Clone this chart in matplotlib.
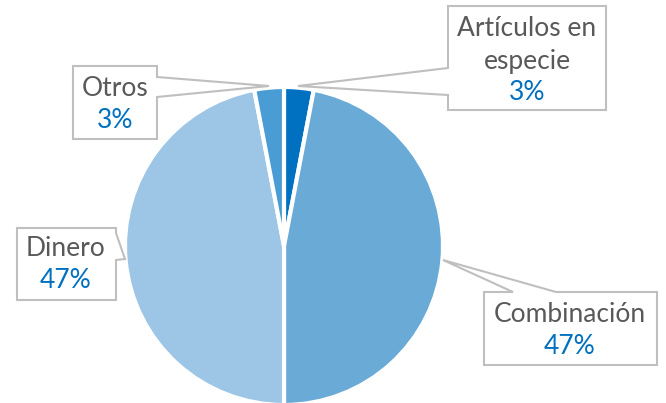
import matplotlib
matplotlib.use("Agg")
import matplotlib.pyplot as plt
from matplotlib.patches import Polygon

# tipo de donación (%)
categorias = ["Artículos en\nespecie", "Combinación", "Dinero", "Otros"]
valores = [3, 47, 47, 3]
colores = ["#0070C0", "#6AAAD6", "#9DC5E5", "#4A9CD4"]

GRIS = "#595959"
AZUL = "#0070C0"
BORDE = "#BFBFBF"

W, H = 666, 403


def callout(ax, box, side, base, tip):
    """Rectangle callout with a wedge pointer; coords in pixels, y downwards."""
    x0, y0, x1, y1 = box
    b0, b1 = base
    if side == "left":
        pts = [(x0, y0), (x1, y0), (x1, y1), (x0, y1), (x0, b1), tip, (x0, b0)]
    elif side == "right":
        pts = [(x0, y0), (x1, y0), (x1, b0), tip, (x1, b1), (x1, y1), (x0, y1)]
    else:  # top
        pts = [(x0, y0), (b0, y0), tip, (b1, y0), (x1, y0), (x1, y1), (x0, y1)]
    pts = [(x, H - y) for x, y in pts]
    ax.add_patch(Polygon(pts, closed=True, facecolor="white", edgecolor=BORDE,
                         lw=1.5, zorder=5, joinstyle="miter"))


fig = plt.figure(figsize=(W / 100, H / 100), dpi=100)
ax = fig.add_axes([0, 0, 1, 1])
ax.set_xlim(0, W)
ax.set_ylim(0, H)
ax.set_aspect("equal")
ax.axis("off")

ax.pie(valores, colors=colores, startangle=90, counterclock=False,
       center=(284, H - 246), radius=159,
       wedgeprops=dict(edgecolor="white", linewidth=3))
ax.set_xlim(0, W)
ax.set_ylim(0, H)

# callouts: box (x0, y0, x1, y1), side with pointer, pointer base, tip
callouts = [
    ((448, 6, 606, 110), "left", (68, 95), (298, 86)),
    ((484, 292, 657, 365), "top", (513, 556), (443, 260)),
    ((17, 228, 116, 300), "right", (233, 260), (125, 259)),
    ((73, 66, 157, 139), "right", (77, 97), (269, 86)),
]
# text positions (x centre, y of first line)
textos = [(527, 29), (570, 314), (66, 249), (115, 89)]

font = dict(family=["Lato", "DejaVu Sans"], fontsize=19, ha="center",
            va="center", zorder=6)

for cat, val, (box, side, base, tip), (tx, ty) in zip(categorias, valores,
                                                      callouts, textos):
    callout(ax, box, side, base, tip)
    lineas = cat.split("\n")
    for i, ln in enumerate(lineas):
        ax.text(tx, H - (ty + i * 33), ln, color=GRIS, **font)
    ax.text(tx, H - (ty + len(lineas) * 32), f"{val}%", color=AZUL, **font)

fig.savefig("out.png", dpi=100)
